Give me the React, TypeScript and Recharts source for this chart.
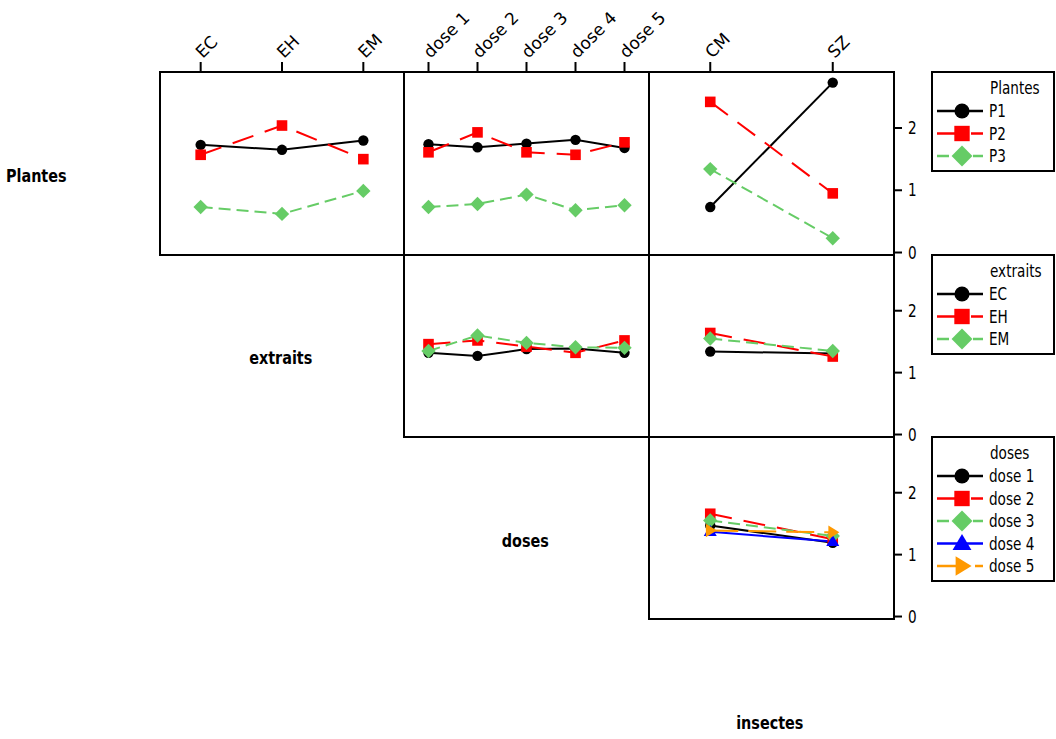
import { LineChart, Line, XAxis, YAxis } from 'recharts';

// factor levels
const plantes = ['P1', 'P2', 'P3'];
const extraits = ['EC', 'EH', 'EM'];
const doses = ['dose 1', 'dose 2', 'dose 3', 'dose 4', 'dose 5'];
const insectes = ['CM', 'SZ'];
const factorNames = ['Plantes', 'extraits', 'doses', 'insectes'];

// means, one list per level of the trace factor
const plantesParExtrait = [
  [1.73, 1.65, 1.8],
  [1.57, 2.04, 1.5],
  [0.73, 0.62, 0.99],
];
const plantesParDose = [
  [1.74, 1.69, 1.75, 1.81, 1.68],
  [1.61, 1.93, 1.61, 1.57, 1.77],
  [0.73, 0.78, 0.93, 0.68, 0.76],
];
const plantesParInsecte = [
  [0.73, 2.73],
  [2.42, 0.95],
  [1.34, 0.23],
];
const extraitsParDose = [
  [1.32, 1.27, 1.38, 1.39, 1.32],
  [1.46, 1.52, 1.42, 1.32, 1.52],
  [1.35, 1.6, 1.48, 1.41, 1.4],
];
const extraitsParInsecte = [
  [1.34, 1.31],
  [1.64, 1.26],
  [1.55, 1.35],
];
const dosesParInsecte = [
  [1.47, 1.19],
  [1.66, 1.25],
  [1.55, 1.3],
  [1.37, 1.21],
  [1.39, 1.36],
];
const yTicks = [0, 1, 2];

const FONT = "'DejaVu Sans', Verdana, sans-serif";
const Y_DOMAIN: [number, number] = [-0.04, 2.9];
const TOP_AX = 72;
const RIGHT_AX = 40;
const SPILL = 40; // room for rotated tick labels past the plot edge
const BOTTOM_SPILL = 14; // room for the "0" label under the plot
const colX = [160, 404, 649];
const colW = [244, 245, 245];
const rowY = [72, 255, 437];
const rowH = [183, 182, 182];
const SQUEEZE = 0.8;

const STYLES = [
  { color: '#000000', dash: undefined, shape: 'circle' },
  { color: '#FF0000', dash: '22 12', shape: 'square' },
  { color: '#66CC66', dash: '12 6', shape: 'diamond' },
  { color: '#0000FF', dash: undefined, shape: 'triangle' },
  { color: '#FF9900', dash: '28 10', shape: 'arrow' },
];

function Marker({ shape, cx, cy, color, s = 1 }: { shape: string; cx: number; cy: number; color: string; s?: number }) {
  if (cx == null || cy == null) return null;
  if (shape === 'circle') return <circle cx={cx} cy={cy} r={5.2 * s} fill={color} />;
  if (shape === 'square') {
    const a = 5.3 * s;
    return <rect x={cx - a} y={cy - a} width={2 * a} height={2 * a} fill={color} />;
  }
  if (shape === 'diamond') {
    const a = 7.2 * s;
    return <polygon points={`${cx},${cy - a} ${cx + a},${cy} ${cx},${cy + a} ${cx - a},${cy}`} fill={color} />;
  }
  if (shape === 'triangle') {
    const w = 6.5 * s;
    const h = 11 * s;
    return <polygon points={`${cx},${cy - h * 0.6} ${cx + w},${cy + h * 0.4} ${cx - w},${cy + h * 0.4}`} fill={color} />;
  }
  const h = 6.8 * s;
  const w = 11 * s;
  return <polygon points={`${cx + w * 0.6},${cy} ${cx - w * 0.4},${cy - h} ${cx - w * 0.4},${cy + h}`} fill={color} />;
}

function TopTick(p: any) {
  return (
    <text
      transform={`translate(${p.x + 2},${p.y - 3}) rotate(-45)`}
      textAnchor="start"
      fontSize={17}
      fontFamily={FONT}
      fill="#000"
    >
      {p.payload.value}
    </text>
  );
}

function RightTick(p: any) {
  return (
    <text transform={`translate(${p.x},${p.y}) scale(${SQUEEZE},1)`} dy="0.36em" textAnchor="start" fontSize={17} fontFamily={FONT} fill="#000">
      {p.payload.value}
    </text>
  );
}

function Panel({ cats, series, names, row, col }: { cats: string[]; series: number[][]; names: string[]; row: number; col: number }) {
  const data = cats.map((c, i) => {
    const d: Record<string, any> = { cat: c };
    series.forEach((vals, j) => (d['s' + j] = vals[i]));
    return d;
  });
  const showTop = row === 0;
  const showRight = col === 2;
  const spill = showTop && !showRight ? SPILL : 0;
  const below = showRight ? BOTTOM_SPILL : 0;
  const w = colW[col] + (showRight ? RIGHT_AX : 0) + spill;
  const h = rowH[row] + (showTop ? TOP_AX : 0) + below;
  const pad = colW[col] / (2 * cats.length);
  return (
    <div style={{ position: 'absolute', left: colX[col], top: rowY[row] - (showTop ? TOP_AX : 0) }}>
      <LineChart width={w} height={h} data={data} margin={{ top: 0, right: spill, bottom: below, left: 0 }}>
        <XAxis
          dataKey="cat"
          type="category"
          orientation="top"
          hide={!showTop}
          height={TOP_AX}
          padding={{ left: pad, right: pad }}
          axisLine={false}
          tickSize={10}
          tickMargin={0}
          tickLine={{ stroke: '#000', strokeWidth: 2 }}
          tick={(p: any) => <TopTick {...p} />}
          interval={0}
        />
        <YAxis
          type="number"
          domain={Y_DOMAIN}
          allowDataOverflow
          orientation="right"
          hide={!showRight}
          width={RIGHT_AX}
          ticks={yTicks}
          interval={0}
          axisLine={false}
          tickSize={8}
          tickMargin={6}
          tickLine={{ stroke: '#000', strokeWidth: 2 }}
          tick={(p: any) => <RightTick {...p} />}
        />
        {series.map((_, j) => (
          <Line
            key={names[j]}
            type="linear"
            dataKey={'s' + j}
            name={names[j]}
            stroke={STYLES[j].color}
            strokeWidth={2}
            strokeDasharray={STYLES[j].dash}
            dot={(d: any) => <Marker key={`${names[j]}-${d.index}`} shape={STYLES[j].shape} cx={d.cx} cy={d.cy} color={STYLES[j].color} />}
            activeDot={false}
            isAnimationActive={false}
          />
        ))}
      </LineChart>
    </div>
  );
}

function LegendBox({ title, names, row }: { title: string; names: string[]; row: number }) {
  const step = 22.5;
  const first = 39;
  const height = first + step * (names.length - 1) + 15;
  return (
    <g transform={`translate(932,${rowY[row]})`}>
      <rect x={0} y={0} width={122} height={height} fill="#fff" stroke="#000" strokeWidth={2} />
      <text transform={`translate(58,16) scale(${SQUEEZE},1)`} dy="0.36em" fontSize={17} fontFamily={FONT}>
        {title}
      </text>
      {names.map((n, i) => {
        const y = first + step * i;
        const st = STYLES[i];
        return (
          <g key={n}>
            <line x1={5} x2={51} y1={y} y2={y} stroke={st.color} strokeWidth={2.5} strokeDasharray={st.dash} />
            <Marker shape={st.shape} cx={30} cy={y} color={st.color} s={1.45} />
            <text transform={`translate(57,${y}) scale(${SQUEEZE},1)`} dy="0.36em" fontSize={17} fontFamily={FONT}>
              {n}
            </text>
          </g>
        );
      })}
    </g>
  );
}

export default function App() {
  const panels = [
    { row: 0, col: 0, cats: extraits, series: plantesParExtrait, names: plantes },
    { row: 0, col: 1, cats: doses, series: plantesParDose, names: plantes },
    { row: 0, col: 2, cats: insectes, series: plantesParInsecte, names: plantes },
    { row: 1, col: 1, cats: doses, series: extraitsParDose, names: extraits },
    { row: 1, col: 2, cats: insectes, series: extraitsParInsecte, names: extraits },
    { row: 2, col: 2, cats: insectes, series: dosesParInsecte, names: doses },
  ];
  const legends = [
    { title: 'Plantes', names: plantes },
    { title: 'extraits', names: extraits },
    { title: 'doses', names: doses },
  ];
  return (
    <div style={{ position: 'absolute', left: 0, top: 0, width: 1056, height: 739, background: '#fff', fontFamily: FONT }}>
      {panels.map((p) => (
        <Panel key={`${p.row}-${p.col}`} {...p} />
      ))}
      <svg width={1056} height={739} style={{ position: 'absolute', left: 0, top: 0, pointerEvents: 'none' }}>
        {panels.map((p) => (
          <rect key={`b${p.row}-${p.col}`} x={colX[p.col]} y={rowY[p.row]} width={colW[p.col]} height={rowH[p.row]} fill="none" stroke="#000" strokeWidth={2} />
        ))}
        {factorNames.map((f, i) => (
          <text
            key={f}
            transform={`translate(${colX[0] - 1.5 + (i - 0.5) * 244.5},${rowY[0] + rowH[0] / 2 + 12 + i * 182.5}) scale(${SQUEEZE},1)`}
            dy="0.36em"
            textAnchor="middle"
            fontSize={18}
            fontWeight="bold"
            fontFamily={FONT}
          >
            {f}
          </text>
        ))}
        {legends.map((l, i) => (
          <LegendBox key={l.title} title={l.title} names={l.names} row={i} />
        ))}
      </svg>
    </div>
  );
}
